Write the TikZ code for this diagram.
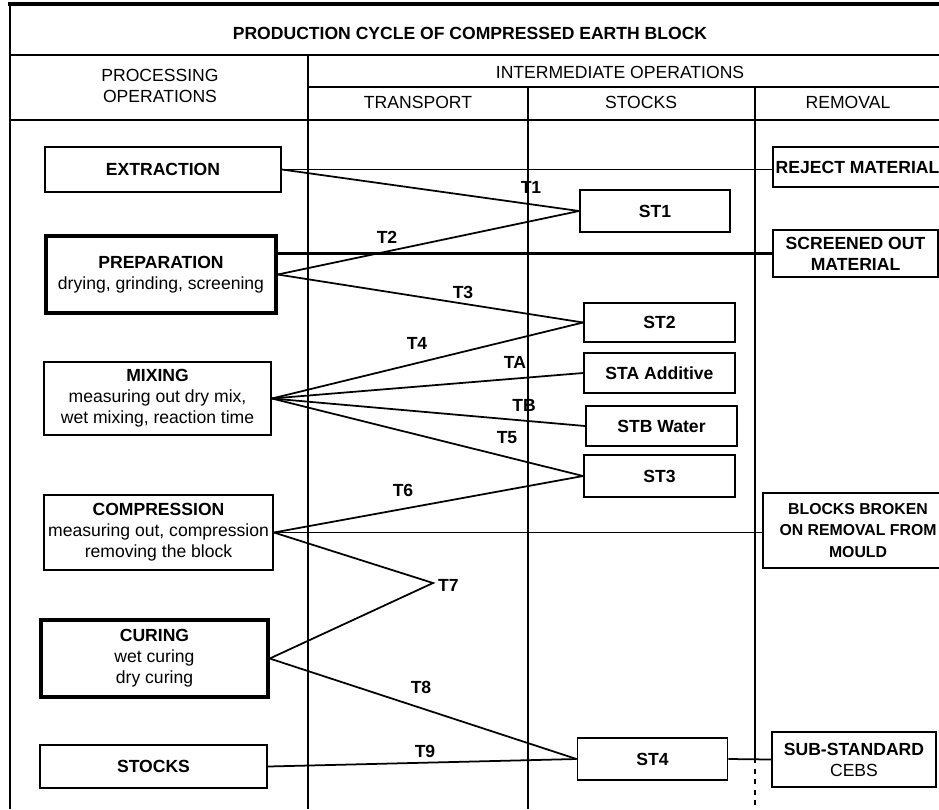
\documentclass[tikz,border=0pt]{standalone}
\usepackage{fontspec}
\setmainfont{Liberation Sans}
\usepackage{tikz}
\tikzset{
	opbox/.style={draw, line width=1.1pt, inner sep=1pt, align=center, font=\fontsize{10}{12}\selectfont},
	heavybox/.style={opbox, line width=2pt},
	stbox/.style={draw, line width=1.1pt, inner sep=1pt, align=center, font=\bfseries\fontsize{10}{12}\selectfont},
	headtext/.style={align=center, font=\fontsize{10}{12}\selectfont},
	tlabel/.style={inner sep=1pt, font=\bfseries\fontsize{10}{12}\selectfont},
	flow/.style={line width=1pt},
}

\begin{document}
\begin{tikzpicture}[x=0.02cm, y=-0.02cm]
			\useasboundingbox (0,0) rectangle (939,809);

			% --- Table frame ---
			\draw[line width=2.3pt] (8,4) -- (939,4);
			\draw[line width=1.7pt] (10,2) -- (10,809);
			\draw[line width=0.9pt] (10,55) -- (939,55);
			\draw[line width=1.6pt] (308,55) -- (308,809);
			\draw[line width=0.9pt] (308,87) -- (939,87);
			\draw[line width=1.6pt] (528,87) -- (528,809);
			\draw[line width=0.8pt] (755,87) -- (755,758);
			\draw[line width=0.8pt, dashed] (755,758) -- (755,809);
			\draw[line width=0.9pt] (10,120) -- (939,120);

			% Headings
			\node[headtext, font=\bfseries\fontsize{10}{12}\selectfont] (title) at (470,33) {PRODUCTION CYCLE OF COMPRESSED EARTH BLOCK};
			\node[headtext] (hproc) at (160,86) {PROCESSING\\OPERATIONS};
			\node[headtext] (hinter) at (620,72) {INTERMEDIATE OPERATIONS};
			\node[headtext] (htrans) at (418,102) {TRANSPORT};
			\node[headtext] (hstock) at (641,102) {STOCKS};
			\node[headtext] (hremov) at (848,102) {REMOVAL};

			% --- Left: processing operations ---
			\node[opbox, minimum width=4.72cm, minimum height=0.9cm] (extraction) at (163,169.5) {\textbf{EXTRACTION}};
			\node[heavybox, minimum width=4.6cm, minimum height=1.54cm] (preparation) at (161,274.5) {\textbf{PREPARATION}\\drying, grinding, screening};
			\node[opbox, minimum width=4.54cm, minimum height=1.46cm] (mixing) at (157.5,398.5) {\textbf{MIXING}\\measuring out dry mix,\\wet mixing, reaction time};
			\node[opbox, minimum width=4.58cm, minimum height=1.5cm] (compression) at (158.5,532.5) {\textbf{COMPRESSION}\\measuring out, compression\\removing the block};
			\node[heavybox, minimum width=4.54cm, minimum height=1.54cm] (curing) at (154.5,658.5) {\textbf{CURING}\\wet curing\\dry curing};
			\node[opbox, minimum width=4.54cm, minimum height=0.86cm] (stocks) at (153.5,766.5) {\textbf{STOCKS}};

			% --- Middle: stocks ---
			\node[stbox, minimum width=3cm, minimum height=0.84cm] (st1) at (655,211) {ST1};
			\node[stbox, minimum width=3.02cm, minimum height=0.78cm] (st2) at (659.5,322.5) {ST2};
			\node[stbox, minimum width=3.02cm, minimum height=0.8cm] (sta) at (659.5,373) {STA Additive};
			\node[stbox, minimum width=3.02cm, minimum height=0.8cm] (stb) at (661.5,426) {STB Water};
			\node[stbox, minimum width=3.02cm, minimum height=0.84cm] (st3) at (659.5,476) {ST3};
			\node[stbox, minimum width=3cm, minimum height=0.84cm] (st4) at (652.5,759) {ST4};

			% --- Right: removal ---
			\node[stbox, minimum width=3.38cm, minimum height=0.8cm] (reject) at (857.5,167) {REJECT MATERIAL};
			\node[stbox, line width=1.6pt, minimum width=3.3cm, minimum height=0.94cm] (screened) at (855.5,253.5) {SCREENED OUT\\MATERIAL};
			\node[stbox, font=\bfseries\fontsize{9}{12}\selectfont, minimum width=3.8cm, minimum height=1.5cm] (broken) at (858,530.5) {BLOCKS BROKEN\\ON REMOVAL FROM\\MOULD};
			\node[opbox, minimum width=3.28cm, minimum height=1.1cm] (substd) at (854,759.5) {\textbf{SUB-STANDARD}\\CEBS};

			% --- Transport lines ---
			\coordinate (t7) at (433,583);
			\draw[line width=0.8pt] (extraction.east) -- (extraction.east -| reject.west);
			\draw[flow] (extraction.east) -- (st1.west);
			\draw[flow] (preparation.east) -- (st1.west);
			\draw[line width=1.6pt] (preparation.east |- screened.west) -- (screened.west);
			\draw[flow] (preparation.east) -- (st2.west);
			\draw[flow] (mixing.east) -- (st2.west);
			\draw[flow] (mixing.east) -- (sta.west);
			\draw[flow] (mixing.east) -- (stb.west);
			\draw[flow] (mixing.east) -- (st3.west);
			\draw[flow] (compression.east) -- (st3.west);
			\draw[flow] (compression.east) -- (compression.east -| broken.west);
			\draw[flow] (compression.east) -- (t7) -- (curing.east);
			\draw[flow] (curing.east) -- (st4.west);
			\draw[flow] (stocks.east) -- (st4.west);
			\draw[flow] (st4.east) -- (substd.west);

			% Labels
			\node[tlabel] (lt1) at (531,187) {T1};
			\node[tlabel] (lt2) at (387,237) {T2};
			\node[tlabel] (lt3) at (463,292) {T3};
			\node[tlabel] (lt4) at (417,343) {T4};
			\node[tlabel] (lta) at (515,362) {TA};
			\node[tlabel] (ltb) at (524,405) {TB};
			\node[tlabel] (lt5) at (507,438) {T5};
			\node[tlabel] (lt6) at (403,490) {T6};
			\node[tlabel, anchor=west] (lt7) at (436,585) {T7};
			\node[tlabel] (lt8) at (421,687) {T8};
			\node[tlabel] (lt9) at (425,751) {T9};
\end{tikzpicture}
\end{document}
